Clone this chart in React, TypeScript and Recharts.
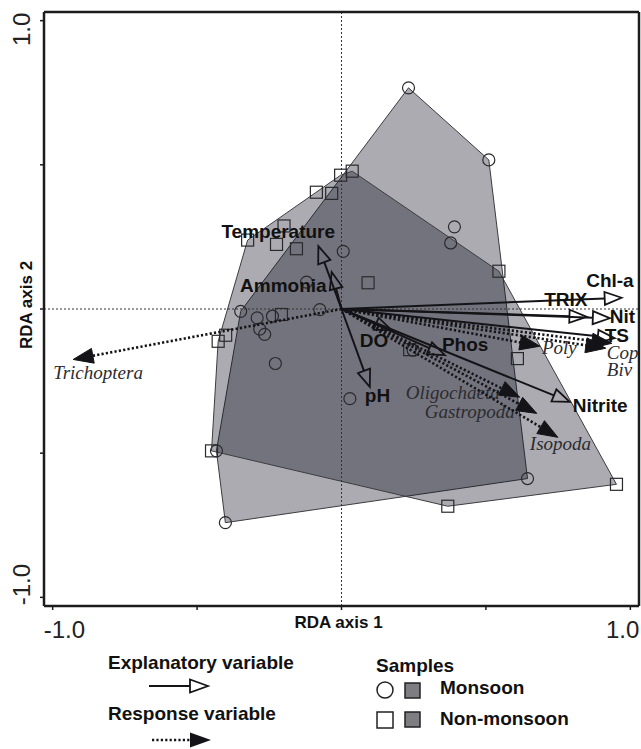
import { ScatterChart, Scatter, XAxis, YAxis, ReferenceLine, Legend } from 'recharts';

// sample scores (RDA axis 1, RDA axis 2)
const monsoonAxis1 = [0.232, 0.51, 0.391, 0.378, 0.006, -0.121, -0.349, -0.075, -0.292, -0.239, -0.283, -0.266, -0.229, 0.029, 0.248, -0.433, -0.402, 0.644];
const monsoonAxis2 = [0.767, 0.517, 0.285, 0.229, 0.2, 0.093, -0.008, -0.002, -0.031, -0.025, -0.07, -0.088, -0.189, -0.311, -0.143, -0.492, -0.741, -0.588];

const nonMonsoonAxis1 = [-0.003, 0.037, -0.087, -0.034, -0.199, -0.325, -0.225, -0.156, 0.092, 0.545, -0.208, -0.401, -0.427, 0.236, 0.609, -0.45, 0.368, 0.952];
const nonMonsoonAxis2 = [0.464, 0.478, 0.405, 0.401, 0.288, 0.239, 0.224, 0.209, 0.091, 0.131, -0.019, -0.091, -0.112, -0.141, -0.172, -0.492, -0.684, -0.608];

// explanatory variables (solid arrows, open heads)
const explanatoryNames = ['Temperature', 'Ammonia', 'Chl-a', 'TRIX', 'Nit', 'TS', 'DO', 'Phos', 'Nitrite', 'pH'];
const explanatoryAxis1 = [-0.08, -0.034, 0.97, 0.848, 0.929, 0.946, 0.174, 0.358, 0.79, 0.098];
const explanatoryAxis2 = [0.218, 0.128, 0.039, -0.027, -0.032, -0.101, -0.074, -0.16, -0.322, -0.27];

// response variables (dotted arrows, filled heads)
const responseNames = ['Trichoptera', 'Poly', 'Cop', 'Biv', 'Oligochaeta', 'Gastropoda', 'Isopoda'];
const responseAxis1 = [-0.929, 0.687, 0.936, 0.915, 0.617, 0.676, 0.749];
const responseAxis2 = [-0.175, -0.129, -0.119, -0.136, -0.306, -0.362, -0.445];

const axisTicks = [-1, -0.5, 0, 0.5, 1];
const DOMAIN: [number, number] = [-1.03, 1.03];

const SANS = '"Liberation Sans", Arial, sans-serif';
const SERIF = '"Liberation Serif", "Times New Roman", serif';
const INK = '#141418';

// label placement relative to the arrow tip: [anchor, dx, dy]
const labelPos: Record<string, [string, number, number]> = {
  Temperature: ['start', -97, -8],
  Ammonia: ['end', -5, 20],
  'Chl-a': ['end', 12, -11],
  TRIX: ['end', 1, -11],
  Nit: ['start', 0, 5],
  TS: ['start', -10, 4],
  DO: ['start', -32, 17],
  Phos: ['start', -3, -4],
  Nitrite: ['start', 3, 10],
  pH: ['start', -5, 15],
  Trichoptera: ['start', -20, 20],
  Poly: ['start', 2, 8],
  Cop: ['start', -5, 16],
  Biv: ['start', 1, 28],
  Oligochaeta: ['end', -20, 2],
  Gastropoda: ['end', -22, 5],
  Isopoda: ['start', -28, 13],
};

type Pt = { x: number; y: number };
const toPoints = (xs: number[], ys: number[]): Pt[] => xs.map((x, i) => ({ x, y: ys[i] }));

const monsoon = toPoints(monsoonAxis1, monsoonAxis2);
const nonMonsoon = toPoints(nonMonsoonAxis1, nonMonsoonAxis2);

function convexHull(pts: Pt[]): Pt[] {
  const p = [...pts].sort((a, b) => a.x - b.x || a.y - b.y);
  const cross = (o: Pt, a: Pt, b: Pt) => (a.x - o.x) * (b.y - o.y) - (a.y - o.y) * (b.x - o.x);
  const lower: Pt[] = [];
  for (const q of p) {
    while (lower.length >= 2 && cross(lower[lower.length - 2], lower[lower.length - 1], q) <= 0) lower.pop();
    lower.push(q);
  }
  const upper: Pt[] = [];
  for (const q of [...p].reverse()) {
    while (upper.length >= 2 && cross(upper[upper.length - 2], upper[upper.length - 1], q) <= 0) upper.pop();
    upper.push(q);
  }
  return lower.slice(0, -1).concat(upper.slice(0, -1));
}

const hullPolygon = (props: any) => (
  <polygon
    points={props.points.map((p: any) => `${p.x},${p.y}`).join(' ')}
    fill="#08081a"
    fillOpacity={0.34}
    stroke="#3c3c40"
    strokeWidth={1}
  />
);

const noDot = () => <g />;
const circleDot = (p: any) => <circle cx={p.cx} cy={p.cy} r={6} fill="none" stroke="#2a2a2e" strokeWidth={1.2} />;
const squareDot = (p: any) => (
  <rect x={p.cx - 6} y={p.cy - 6} width={12} height={12} fill="none" stroke="#2a2a2e" strokeWidth={1.2} />
);

function makeArrow(name: string, dotted: boolean) {
  return (props: any) => {
    const { x1, y1, x2, y2 } = props;
    const dx = x2 - x1;
    const dy = y2 - y1;
    const len = Math.hypot(dx, dy) || 1;
    const ux = dx / len;
    const uy = dy / len;
    const hl = dotted ? 20 : 17;
    const hw = dotted ? 7.5 : 6.5;
    const bx = x2 - ux * hl;
    const by = y2 - uy * hl;
    const head = `${x2},${y2} ${bx - uy * hw},${by + ux * hw} ${bx + uy * hw},${by - ux * hw}`;
    const [anchor, ox, oy] = labelPos[name];
    return (
      <g>
        <line
          x1={x1}
          y1={y1}
          x2={dotted ? bx + ux * 2 : bx}
          y2={dotted ? by + uy * 2 : by}
          stroke={INK}
          strokeWidth={dotted ? 2.6 : 2}
          strokeDasharray={dotted ? '2.2 2.2' : undefined}
        />
        <polygon
          points={head}
          fill={dotted ? INK : 'none'}
          stroke={INK}
          strokeWidth={dotted ? 1 : 1.8}
          strokeLinejoin="miter"
        />
        <text
          x={x2 + ox}
          y={y2 + oy}
          textAnchor={anchor as any}
          fontFamily={dotted ? SERIF : SANS}
          fontStyle={dotted ? 'italic' : 'normal'}
          fontWeight={dotted ? 'normal' : 'bold'}
          fontSize={19}
          fill={dotted ? '#2c2c30' : '#111'}
        >
          {name}
        </text>
      </g>
    );
  };
}

const XTick = ({ x, y, payload }: any) => {
  if (payload.value === -1)
    return <text x={x - 9} y={y + 28} textAnchor="start" fontFamily={SANS} fontSize={24} fill="#222">-1.0</text>;
  if (payload.value === 1)
    return <text x={x + 9} y={y + 28} textAnchor="end" fontFamily={SANS} fontSize={24} fill="#222">1.0</text>;
  return <g />;
};

const YTick = ({ x, y, payload }: any) => {
  const tx = x - 10;
  if (payload.value === 1)
    return (
      <text x={tx} y={y - 8} transform={`rotate(-90, ${tx}, ${y - 8})`} textAnchor="end" fontFamily={SANS} fontSize={24} fill="#222">
        1.0
      </text>
    );
  if (payload.value === -1)
    return (
      <text x={tx} y={y + 8} transform={`rotate(-90, ${tx}, ${y + 8})`} textAnchor="start" fontFamily={SANS} fontSize={24} fill="#222">
        -1.0
      </text>
    );
  return <g />;
};

const XTitle = ({ viewBox }: any) => (
  <text x={viewBox.x + viewBox.width / 2 - 3} y={viewBox.y + 22} textAnchor="middle" fontFamily={SANS} fontWeight="bold" fontSize={17} fill="#111">
    RDA axis 1
  </text>
);

const YTitle = ({ viewBox }: any) => {
  const cx = 32;
  const cy = viewBox.y + viewBox.height / 2 - 4;
  return (
    <text x={cx} y={cy} transform={`rotate(-90, ${cx}, ${cy})`} textAnchor="middle" fontFamily={SANS} fontWeight="bold" fontSize={17} fill="#111">
      RDA axis 2
    </text>
  );
};

const LegendBox = () => {
  const t = { fontFamily: SANS, fontWeight: 'bold' as const, fontSize: 19, fill: '#111' };
  return (
    <svg width={641} height={109} style={{ display: 'block' }}>
      <text x={108} y={29} {...t}>Explanatory variable</text>
      <line x1={149} y1={46} x2={190} y2={46} stroke={INK} strokeWidth={2} />
      <polygon points="208,46 190,39.5 190,52.5" fill="none" stroke={INK} strokeWidth={1.8} />
      <text x={108} y={80} {...t}>Response variable</text>
      <line x1={152} y1={100} x2={192} y2={100} stroke={INK} strokeWidth={2.6} strokeDasharray="2.2 2.2" />
      <polygon points="211,100 190,92.5 190,107.5" fill={INK} />

      <text x={376} y={32} {...t}>Samples</text>
      <circle cx={385} cy={50} r={8} fill="none" stroke="#222" strokeWidth={1.5} />
      <rect x={405} y={43} width={15} height={15} fill="#7e7e82" stroke="#222" strokeWidth={1.5} />
      <text x={440} y={54} {...t}>Monsoon</text>
      <rect x={377} y={72} width={16} height={16} fill="none" stroke="#222" strokeWidth={1.5} />
      <rect x={405} y={72} width={15} height={15} fill="#7e7e82" stroke="#222" strokeWidth={1.5} />
      <text x={440} y={85} {...t}>Non-monsoon</text>
    </svg>
  );
};

export default function App() {
  return (
    <div style={{ position: 'absolute', left: 0, top: 0, width: 641, height: 749, background: '#fff' }}>
      <ScatterChart width={641} height={749} margin={{ top: 12, right: 2, bottom: 103, left: 0 }}>
        <XAxis
          type="number"
          dataKey="x"
          domain={DOMAIN}
          ticks={axisTicks}
          allowDataOverflow
          height={40}
          tickSize={4}
          tickMargin={0}
          axisLine={{ stroke: '#1c1c1c', strokeWidth: 2.5 }}
          tickLine={{ stroke: '#1c1c1c', strokeWidth: 1.5 }}
          tick={<XTick />}
          label={{ content: XTitle } as any}
        />
        <YAxis
          type="number"
          dataKey="y"
          domain={DOMAIN}
          ticks={axisTicks}
          allowDataOverflow
          width={44}
          tickSize={4}
          tickMargin={0}
          axisLine={{ stroke: '#1c1c1c', strokeWidth: 2.5 }}
          tickLine={{ stroke: '#1c1c1c', strokeWidth: 1.5 }}
          tick={<YTick />}
          label={{ content: YTitle } as any}
        />
        <Scatter data={convexHull(monsoon)} shape={noDot} line={hullPolygon} isAnimationActive={false} zIndex={100} />
        <Scatter data={convexHull(nonMonsoon)} shape={noDot} line={hullPolygon} isAnimationActive={false} zIndex={100} />
        <ReferenceLine x={0} stroke="#333" strokeWidth={1} strokeDasharray="2 2" zIndex={200} />
        <ReferenceLine y={0} stroke="#333" strokeWidth={1} strokeDasharray="2 2" zIndex={200} />
        <ReferenceLine y={DOMAIN[1]} stroke="#1c1c1c" strokeWidth={2.5} zIndex={200} />
        <ReferenceLine x={DOMAIN[1]} stroke="#1c1c1c" strokeWidth={2.5} zIndex={200} />
        <Scatter data={monsoon} shape={circleDot} isAnimationActive={false} zIndex={300} />
        <Scatter data={nonMonsoon} shape={squareDot} isAnimationActive={false} zIndex={300} />
        {responseNames.map((name, i) => (
          <ReferenceLine
            key={name}
            segment={[{ x: 0, y: 0 }, { x: responseAxis1[i], y: responseAxis2[i] }]}
            shape={makeArrow(name, true)}
            zIndex={400}
          />
        ))}
        {explanatoryNames.map((name, i) => (
          <ReferenceLine
            key={name}
            segment={[{ x: 0, y: 0 }, { x: explanatoryAxis1[i], y: explanatoryAxis2[i] }]}
            shape={makeArrow(name, false)}
            zIndex={400}
          />
        ))}
        <Legend
          layout="vertical"
          align="center"
          verticalAlign="middle"
          content={<LegendBox />}
          wrapperStyle={{ left: 0, top: 640, width: 641, height: 109 }}
        />
      </ScatterChart>
    </div>
  );
}
